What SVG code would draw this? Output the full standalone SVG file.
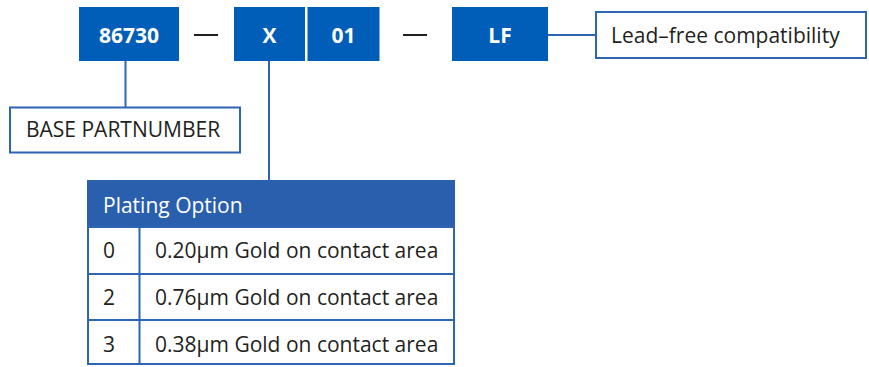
<svg xmlns="http://www.w3.org/2000/svg" width="869" height="367" viewBox="0 0 869 367">
<style>
.blk{fill:#005eb8}
.bt{fill:#ffffff;font-family:"Open Sans","Noto Sans",sans-serif;font-weight:bold;font-size:21px;text-anchor:middle}
.lbl{fill:#ffffff;stroke:#2d64b4;stroke-width:2}
.t{fill:#231f20;font-family:"Open Sans","Noto Sans",sans-serif;font-size:21px}
.ln{stroke:#2d64b4;stroke-width:2;fill:none}
.dash{stroke:#231f20;stroke-width:2}
</style>
<rect width="869" height="367" fill="#ffffff"/>
<g id="connectors">
<line class="ln" x1="125.5" y1="61" x2="125.5" y2="107"/>
<line class="ln" x1="269" y1="61" x2="269" y2="181"/>
<line class="ln" x1="548" y1="35" x2="596" y2="35"/>
</g>
<g id="dash1"><line class="dash" x1="194" y1="35" x2="218" y2="35"/></g>
<g id="dash2"><line class="dash" x1="403" y1="35" x2="427" y2="35"/></g>
<g id="n86730"><rect class="blk" x="79" y="7" width="100" height="54"/><text class="bt" x="129" y="42.5">86730</text></g>
<g id="nX"><rect class="blk" x="234" y="7" width="71" height="54"/><text class="bt" x="269.5" y="42.5">X</text></g>
<g id="n01"><rect class="blk" x="307.5" y="7" width="72" height="54"/><text class="bt" x="343.5" y="42.5">01</text></g>
<g id="nLF"><rect class="blk" x="452" y="7" width="96" height="54"/><text class="bt" x="500" y="42.5">LF</text></g>
<g id="leadfree"><rect class="lbl" x="596" y="12" width="270" height="46"/><text class="t" x="611" y="43">Lead–free compatibility</text></g>
<g id="base"><rect class="lbl" x="10" y="107.5" width="230" height="45"/><text class="t" x="26" y="137">BASE PARTNUMBER</text></g>
<g id="plating">
<rect x="87" y="180" width="368" height="47" fill="#2a5fae"/>
<text x="103" y="213" style="fill:#ffffff;font-family:'Open Sans','Noto Sans',sans-serif;font-size:21px">Plating Option</text>
<rect class="lbl" x="88" y="227" width="366" height="137"/>
<line class="ln" x1="88" y1="274" x2="454" y2="274"/>
<line class="ln" x1="88" y1="320" x2="454" y2="320"/>
<line class="ln" x1="139.5" y1="227" x2="139.5" y2="364"/>
<text class="t" x="103" y="258">0</text>
<text class="t" x="155" y="258">0.20µm Gold on contact area</text>
<text class="t" x="103" y="305">2</text>
<text class="t" x="155" y="305">0.76µm Gold on contact area</text>
<text class="t" x="103" y="352">3</text>
<text class="t" x="155" y="352">0.38µm Gold on contact area</text>
</g>
</svg>
